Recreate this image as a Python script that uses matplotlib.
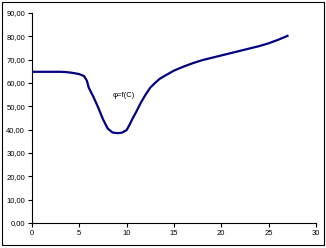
import matplotlib.pyplot as plt
from matplotlib.patches import Rectangle
from matplotlib.ticker import FuncFormatter

x = [0, 1, 2, 3, 3.5, 4, 4.5, 5, 5.5, 5.8, 6, 6.5, 7, 7.5, 8, 8.5, 9, 9.5, 10,
     10.3, 10.6, 11, 11.5, 12, 12.5, 13, 13.5, 14, 15, 16, 17, 18, 19, 20, 21,
     22, 23, 24, 25, 26, 27]
y = [64.8, 64.8, 64.8, 64.8, 64.7, 64.5, 64.2, 63.8, 63.0, 61.0, 58.0, 54.0,
     49.5, 44.5, 40.5, 38.8, 38.5, 38.7, 39.8, 42.0, 44.5, 47.5, 51.5, 55.0,
     58.0, 60.0, 61.8, 63.0, 65.3, 67.0, 68.5, 69.8, 70.8, 71.8, 72.8, 73.8,
     74.8, 75.8, 77.0, 78.5, 80.2]

plt.rcParams['font.family'] = ['Liberation Sans', 'DejaVu Sans']

fig = plt.figure(figsize=(3.26, 2.48), dpi=100)
ax = fig.add_axes([0.098, 0.1008, 0.871, 0.8468])

ax.plot(x, y, color='#000080', linewidth=1.6)
ax.text(9.7, 54.6, 'φ=f(C)', fontsize=5.5, ha='center', va='center')

ax.set_xlim(0, 30)
ax.set_ylim(0, 90)
ax.set_xticks(range(0, 31, 5))
ax.set_yticks(range(0, 91, 10))
ax.yaxis.set_major_formatter(FuncFormatter(lambda v, p: f'{v:.2f}'.replace('.', ',')))
ax.tick_params(labelsize=5.5, length=3, width=0.8, direction='out', pad=2)
ax.spines['top'].set_visible(False)
ax.spines['right'].set_visible(False)
for s in ('left', 'bottom'):
    ax.spines[s].set_linewidth(0.8)

fig.patches.append(Rectangle((1.5 / 326, 3 / 248), 322 / 326, 243 / 248,
                             transform=fig.transFigure, fill=False,
                             edgecolor='black', linewidth=0.8))

fig.savefig('out.png', dpi=100)
plt.close()
